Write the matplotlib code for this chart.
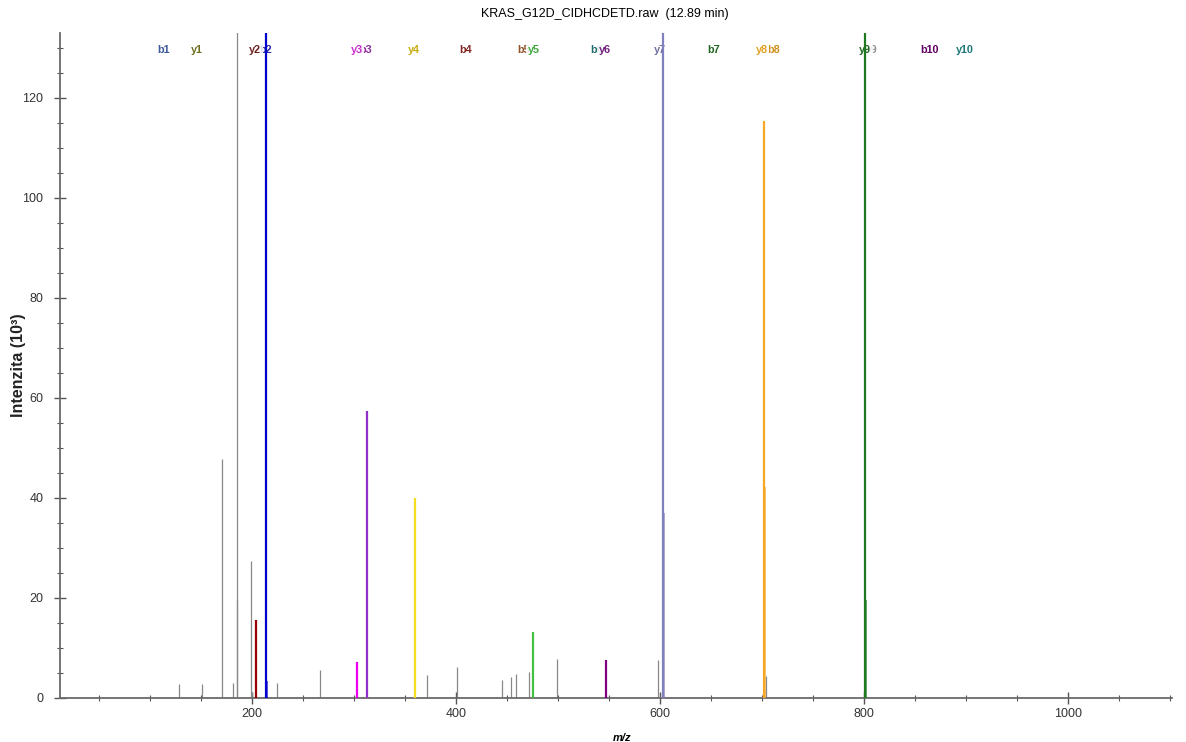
import matplotlib
matplotlib.use("Agg")
from matplotlib import pyplot as plt
from matplotlib.ticker import MultipleLocator

plt.rcParams['font.family'] = ['Liberation Sans', 'DejaVu Sans']

TITLE = "KRAS_G12D_CIDHCDETD.raw  (12.89 min)"

# unassigned peaks (m/z, intensity in 10^3)
other_mz = [129.0, 151.0, 171.2, 181.9, 185.2, 186.0, 199.3, 200.2, 224.4, 267.2,
            372.0, 400.8, 444.9, 454.3, 459.2, 471.3, 499.4, 598.0, 602.5,
            703.8, 700.6, 800.5]
other_int = [2.9, 2.9, 47.9, 3.0, 180.0, 19.7, 27.5, 1.2, 3.0, 5.7,
             4.7, 6.2, 3.6, 4.2, 4.9, 5.3, 7.9, 7.7, 1.0,
             4.5, 0.8, 0.8]

# matched fragment ions
ion_names = ["y2", "b2", "y3", "b3", "y4", "y5", "y6", "y7", "y8", "y9"]
ion_mz = [204.5, 213.7, 303.4, 312.6, 360.3, 475.9, 546.8, 603.2, 701.9, 801.1]
ion_int = [15.7, 210.0, 7.3, 57.4, 40.0, 13.3, 7.7, 170.0, 115.4, 160.0]

# isotope peaks of matched ions
iso_parent = ["b2", "b3", "y7", "y8", "y9"]
iso_mz = [215.0, 313.2, 603.9, 702.9, 802.1]
iso_int = [3.5, 7.7, 37.1, 42.2, 19.7]

# ion labels on top of the spectrum
label_names = ["b1", "y1", "b2", "y2", "b3", "y3", "y4", "b4", "b5", "y5", "b6", "y6",
               "y7", "b7", "b8", "y8", "b9", "y9", "b10", "y10"]
label_mz = [113.4, 146.1, 213.2, 203.4, 311.5, 302.8, 359.2, 409.9, 466.0, 476.0,
            538.3, 545.5, 600.0, 652.9, 711.5, 699.5, 806.5, 800.8, 864.5, 898.8]

peak_colors = {"y2": "#990000", "b2": "#0000CC", "y3": "#EE00EE", "b3": "#9030C8",
               "y4": "#F5DC1E", "y5": "#44C044", "y6": "#800080", "y7": "#8080C0",
               "y8": "#F5A623", "y9": "#1E7A1E"}
label_colors = {"b1": "#3A5A9A", "y1": "#6E6E1E", "b2": "#2828A8", "y2": "#6E1E1E",
                "b3": "#8C2C9C", "y3": "#CC30CC", "y4": "#C8AC10", "b4": "#802424",
                "b5": "#8E5028", "y5": "#3CA83C", "b6": "#1E6E6E", "y6": "#70207C",
                "y7": "#7070A0", "b7": "#1E641E", "b8": "#D09020", "y8": "#E0A020",
                "b9": "#909090", "y9": "#1E641E", "b10": "#600060", "y10": "#1E7878"}

fig = plt.figure(figsize=(11.86, 7.42), dpi=100)
ax = fig.add_axes([60 / 1186, 44 / 742, 1112 / 1186, 665 / 742])

ax.vlines(other_mz, 0, other_int, color="#888888", linewidth=0.9, zorder=2)
for mz, inten, parent in zip(iso_mz, iso_int, iso_parent):
    ax.vlines(mz, 0, inten, color=peak_colors[parent], alpha=0.75, linewidth=1.2, zorder=3)
for name, mz, inten in zip(ion_names, ion_mz, ion_int):
    ax.vlines(mz, 0, inten, color=peak_colors[name], linewidth=1.6, zorder=4)

# labels: b ions first, y ions on top (white box hides the overlapped part)
for prefix in ["b", "y"]:
    for name, mz in zip(label_names, label_mz):
        if name.startswith(prefix):
            ax.text(mz, 0.974, name, transform=ax.get_xaxis_transform(),
                    ha="center", va="center", fontsize=7.8, fontweight="bold",
                    color=label_colors[name], zorder=1,
                    bbox=dict(facecolor="white", edgecolor="none", pad=1.2, alpha=0.85))

ax.set_xlim(12.1, 1101.6)
ax.set_ylim(0, 133)
ax.xaxis.set_major_locator(MultipleLocator(200))
ax.xaxis.set_minor_locator(MultipleLocator(50))
ax.yaxis.set_major_locator(MultipleLocator(20))
ax.yaxis.set_minor_locator(MultipleLocator(5))

for side in ["top", "right"]:
    ax.spines[side].set_visible(False)
for side in ["left", "bottom"]:
    ax.spines[side].set_color("#6a6a6a")
    ax.spines[side].set_linewidth(1.3)

ax.tick_params(which="major", direction="inout", length=8, width=1, color="#555555",
               labelsize=9, labelcolor="#333333")
ax.tick_params(which="minor", direction="inout", length=4, width=0.8, color="#555555")
ax.tick_params(axis="y", pad=8)

ax.set_xlabel("m/z", fontsize=8, fontstyle="italic", fontweight="bold", labelpad=10)
ax.xaxis.set_label_coords((622 - 60) / 1112, -0.052)
ax.set_ylabel("Intenzita (10³)", fontsize=11.5, fontweight="bold", color="#222222")
ax.yaxis.set_label_coords(-0.031, 0.5)

fig.text(605 / 1186, 1 - 14 / 742, TITLE, ha="center", va="center", fontsize=9)

fig.savefig("out.png", dpi=100)
